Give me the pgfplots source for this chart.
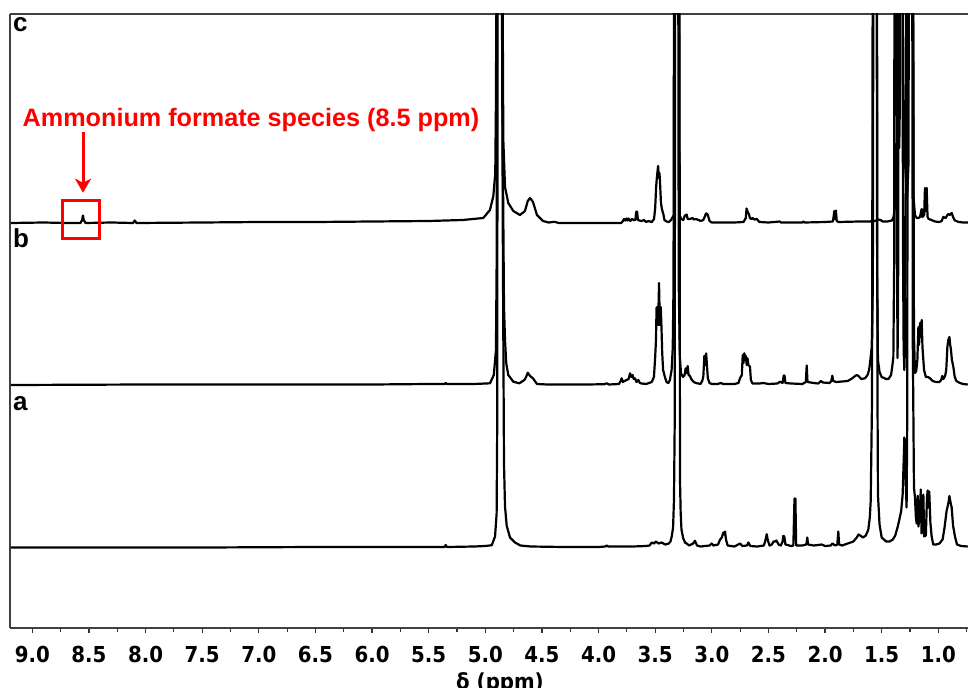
\documentclass[border=0pt]{standalone}
\usepackage{fontspec}
\usepackage{pgfplots}
\usepackage{pgfplotstable}
\pgfplotsset{compat=1.18}
\usetikzlibrary{arrows.meta}
\newfontfamily\tickfont{DejaVu Sans Condensed}
\newfontfamily\annfont{Liberation Sans}

% spectrum c (heights above its own baseline)
\pgfplotstableread{
x y
9.19 0
8.90 0.5
8.70 0
8.575 0
8.56 3
8.553 7.5
8.546 3
8.53 0
8.30 0.5
8.11 0
8.095 2.5
8.08 0
7.50 0.5
7.00 1
6.50 1
6.00 1.5
5.50 2
5.20 3
5.018 5
4.959 13
4.929 27
4.912 50
4.906 123
4.900 300
4.893 700
4.875 700
4.862 700
4.850 300
4.841 83
4.826 36
4.797 20
4.753 12
4.694 8
4.650 12
4.625 22
4.605 25
4.579 21
4.544 8
4.491 2
4.44 0.5
4.39 1.2
4.35 0
3.80 0
3.785 2
3.775 4
3.765 2.5
3.755 4.5
3.745 2.5
3.735 4.5
3.72 2
3.705 4
3.69 3
3.675 3
3.668 11
3.660 11.5
3.652 3
3.64 2.5
3.62 2
3.60 3
3.58 1
3.56 2
3.53 1
3.51 4
3.500 15
3.492 35
3.487 43
3.481 50
3.474 57
3.468 45
3.462 50
3.457 40
3.449 20
3.442 15
3.436 12
3.428 9
3.418 3
3.40 1.5
3.38 1
3.36 3
3.345 6
3.335 8
3.325 700
3.310 700
3.298 700
3.285 8
3.27 4
3.252 3
3.240 7
3.230 8
3.222 8.5
3.213 4
3.193 4
3.17 5
3.16 3.5
3.14 4
3.117 3
3.10 2
3.075 3
3.06 7
3.052 9.5
3.045 9.5
3.035 8
3.02 2
3.001 0.5
2.90 0.5
2.80 0.5
2.72 1
2.700 5
2.693 14.5
2.686 12
2.680 10
2.672 9
2.664 5
2.650 4
2.640 5
2.625 3.5
2.603 4
2.58 1
2.50 0.5
2.40 1.5
2.39 0.5
2.20 0.5
2.19 1.5
2.18 0.5
2.00 1
1.93 1.5
1.918 12
1.911 4
1.904 12.5
1.897 2
1.88 1
1.70 1.5
1.60 1.5
1.58 2.5
1.56 2
1.53 3.5
1.51 3
1.49 1.5
1.45 1.5
1.41 2.5
1.395 6
1.385 15
1.380 60
1.375 79
1.368 70
1.362 83
1.356 80
1.345 75
1.337 140
1.332 700
1.324 700
1.318 700
1.310 150
1.300 80
1.292 56
1.284 40
1.275 26
1.263 60
1.255 700
1.240 700
1.228 700
1.218 25
1.206 7.7
1.190 5
1.176 5
1.162 6
1.147 14
1.140 6
1.125 8
1.118 35
1.111 12
1.103 35
1.095 6
1.085 4
1.06 3
1.03 1.5
0.99 1
0.97 2
0.956 6
0.935 5
0.920 8
0.912 9
0.900 8
0.882 10
0.870 6
0.855 2.7
0.82 1
0.78 0.5
0.74 0.5
}\specC

% spectrum b
\pgfplotstableread{
x y
9.19 0
8.00 0.5
7.00 0.5
6.00 0.5
5.50 1
5.36 1
5.35 2
5.34 1
5.10 1
4.959 1.7
4.925 10
4.906 35
4.900 120
4.893 700
4.875 700
4.860 700
4.850 300
4.835 78
4.826 45
4.815 21.7
4.797 10
4.753 3.3
4.70 1.7
4.655 5
4.640 8
4.625 12.3
4.605 9
4.579 6.7
4.544 1
4.45 0.5
4.10 0.5
3.95 0.8
3.928 1.7
3.91 0.5
3.82 1
3.805 4
3.796 6.7
3.785 3
3.770 4
3.752 5
3.735 6
3.722 11.7
3.710 8
3.699 10
3.690 6
3.678 6.7
3.665 3
3.649 5
3.635 2
3.62 1.5
3.58 1
3.53 3
3.511 8
3.500 28
3.493 45
3.488 77
3.481 78
3.474 60
3.466 102
3.459 60
3.451 78
3.445 60
3.438 32
3.430 15
3.414 8
3.40 3
3.384 2
3.37 5
3.355 15
3.345 37
3.338 100
3.330 700
3.310 700
3.300 700
3.292 100
3.282 28
3.272 11.7
3.255 8
3.240 10
3.231 16.7
3.222 12
3.213 19
3.205 10
3.193 9
3.180 5.7
3.16 3
3.14 2
3.10 1
3.085 4
3.075 8.3
3.066 29
3.058 20
3.050 31.7
3.042 18.3
3.035 6.7
3.02 2
3.00 1
2.95 1
2.92 2
2.90 1
2.85 1
2.80 1
2.765 2
2.751 6.7
2.735 10
2.727 30
2.720 22
2.713 31.7
2.707 28
2.700 29
2.692 20
2.685 26.7
2.677 20
2.663 18.3
2.655 5
2.640 1.5
2.58 1.5
2.545 2
2.50 1
2.42 1.5
2.398 3.3
2.375 2
2.365 9.5
2.358 9.5
2.350 2
2.30 1.5
2.20 1
2.170 3
2.162 19.5
2.155 3
2.10 2
2.060 1.5
2.036 4
2.020 2.5
1.960 2
1.945 4
1.936 9.3
1.928 4
1.90 3
1.80 4
1.76 6.7
1.735 9
1.720 10
1.705 9
1.680 6
1.647 6.7
1.625 10
1.611 15
1.600 25
1.588 38
1.578 100
1.570 700
1.560 700
1.548 700
1.540 100
1.533 25
1.519 13
1.500 8
1.460 6
1.440 6
1.417 10
1.405 20
1.397 28
1.390 120
1.385 700
1.378 700
1.370 700
1.365 140
1.360 27
1.355 80
1.348 700
1.340 700
1.332 700
1.320 700
1.312 140
1.306 35
1.300 15
1.292 50
1.275 700
1.260 700
1.245 700
1.230 700
1.215 50
1.206 12
1.195 14
1.185 25
1.176 58
1.170 40
1.162 62
1.155 48
1.147 65
1.140 38
1.126 15
1.110 8
1.090 8
1.073 6.7
1.050 4
1.020 3
0.990 3
0.975 5
0.965 9
0.955 6
0.940 9
0.930 15
0.920 38
0.912 45
0.902 48
0.895 40
0.888 35
0.880 25
0.867 18
0.855 8
0.840 4
0.810 2
0.78 1
0.74 0.5
}\specB

% spectrum a
\pgfplotstableread{
x y
9.19 0
8.50 0
7.50 0
6.50 0.5
5.60 0.5
5.36 0.5
5.35 2.5
5.34 0.5
5.10 1
5.00 1.5
4.943 2.3
4.914 11
4.900 34
4.895 120
4.890 700
4.875 700
4.858 700
4.845 300
4.835 84
4.826 41
4.811 21.7
4.782 10
4.738 5
4.690 2
4.60 1
4.30 0.5
4.00 0.5
3.94 1
3.928 2
3.915 1
3.70 1
3.58 1.5
3.55 2
3.530 5
3.510 4
3.495 6
3.470 4
3.445 5
3.410 3
3.380 4
3.365 6
3.354 11
3.342 20
3.334 48
3.328 120
3.322 700
3.310 700
3.298 700
3.287 700
3.281 68
3.275 35
3.268 18
3.252 9
3.235 4.7
3.222 4
3.20 2
3.165 4
3.149 6.7
3.13 2
3.10 1
3.02 2
3.001 4
2.985 2
2.945 3
2.928 7.7
2.912 10
2.898 15
2.890 13
2.883 16
2.875 8
2.86 2
2.80 1
2.751 4
2.73 1.5
2.690 2
2.677 5
2.66 1.5
2.60 1
2.54 2
2.525 8
2.515 13.3
2.505 7
2.49 2
2.470 3
2.455 6
2.442 6
2.430 7
2.410 3
2.39 2
2.375 6
2.369 11.7
2.360 11
2.350 3
2.30 1.5
2.280 2
2.270 49
2.262 49
2.255 2
2.20 2
2.165 3
2.157 10
2.150 3
2.10 2
2.030 3
2.00 1.5
1.95 2
1.935 4
1.91 2
1.892 3
1.883 16
1.876 3
1.85 2
1.80 4
1.75 6
1.720 10
1.705 13
1.690 12
1.665 10
1.640 12
1.625 16
1.618 18
1.605 30
1.597 46.5
1.585 150
1.578 700
1.560 700
1.542 700
1.537 150
1.533 53
1.519 23
1.500 10
1.461 6
1.430 6
1.402 8
1.380 12
1.358 21
1.340 30
1.328 36.5
1.315 53
1.305 90
1.300 110
1.296 100
1.292 77
1.286 60
1.280 40
1.275 120
1.268 700
1.250 700
1.232 700
1.225 200
1.215 60
1.206 50
1.198 30
1.191 24
1.182 51.7
1.176 21
1.165 30
1.155 58
1.148 14
1.140 25
1.132 53
1.125 11
1.110 12
1.100 50
1.094 57
1.087 40
1.080 56
1.070 25
1.059 11
1.045 3
1.020 3
0.990 4
0.962 8
0.945 20
0.927 36.5
0.910 45
0.902 51.5
0.892 45
0.882 40
0.870 22
0.853 11
0.835 3
0.80 1.5
0.74 1
}\specA

\begin{document}
\begin{tikzpicture}
\begin{axis}[
  scale only axis, width=479pt, height=307pt,
  x dir=reverse, xmin=0.738, xmax=9.197, ymin=0, ymax=614,
  axis x line*=box, axis y line*=left,
  ytick=\empty,
  xtick={1.0,1.5,2.0,2.5,3.0,3.5,4.0,4.5,5.0,5.5,6.0,6.5,7.0,7.5,8.0,8.5,9.0},
  minor xtick={0.75,1.25,1.75,2.25,2.75,3.25,3.75,4.25,4.75,5.25,5.75,6.25,6.75,7.25,7.75,8.25,8.75},
  xtick pos=left,
  tick align=outside,
  major tick length=2.6pt, minor tick length=1.8pt,
  tick style={black!80, line width=0.6pt},
  axis line style={black!75, line width=0.75pt},
  xticklabel={\pgfmathprintnumber[fixed,fixed zerofill,precision=1,assume math mode=true]{\tick}},
  xticklabel style={font=\tickfont\bfseries\fontsize{11}{13}\selectfont, anchor=north, inner sep=0pt, yshift=-6.5pt},
  xlabel={δ (ppm)},
  xlabel style={at={(axis description cs:0.5115,-0.0717)}, anchor=north, inner sep=0pt, font=\tickfont\bfseries\fontsize{11}{13}\selectfont},
  clip=true,
]
\addplot[black, line width=1.1pt, line join=round] table[x=x, y expr=\thisrow{y}+80.5] {\specA};
\addplot[black, line width=1.1pt, line join=round] table[x=x, y expr=\thisrow{y}+243] {\specB};
\addplot[black, line width=1.1pt, line join=round] table[x=x, y expr=\thisrow{y}+405] {\specC};

\node[anchor=base west, inner sep=0pt, font=\annfont\bfseries\fontsize{13}{15}\selectfont] at (axis cs:9.172,596.3) {c};
\node[anchor=base west, inner sep=0pt, font=\annfont\bfseries\fontsize{13}{15}\selectfont] at (axis cs:9.172,381) {b};
\node[anchor=base west, inner sep=0pt, font=\annfont\bfseries\fontsize{13}{15}\selectfont] at (axis cs:9.172,218) {a};

\draw[red, line width=1.5pt] (axis cs:8.729,428) rectangle (axis cs:8.411,390);
\draw[red, line width=1.5pt, -{Stealth[length=7pt,width=8pt,inset=2pt]}] (axis cs:8.552,496) -- (axis cs:8.552,435.3);
\node[anchor=base, inner sep=0pt, text=red, font=\annfont\bfseries\fontsize{12.6}{14}\selectfont] at (axis cs:7.069,501.3) {Ammonium formate species (8.5 ppm)};

\coordinate (bl) at (rel axis cs:0,0);
\coordinate (tr) at (rel axis cs:1,1);
\end{axis}
\pgfresetboundingbox
\path[use as bounding box] ([xshift=-5pt,yshift=-29.5pt]bl) rectangle ([yshift=7pt]tr);
\end{tikzpicture}
\end{document}
